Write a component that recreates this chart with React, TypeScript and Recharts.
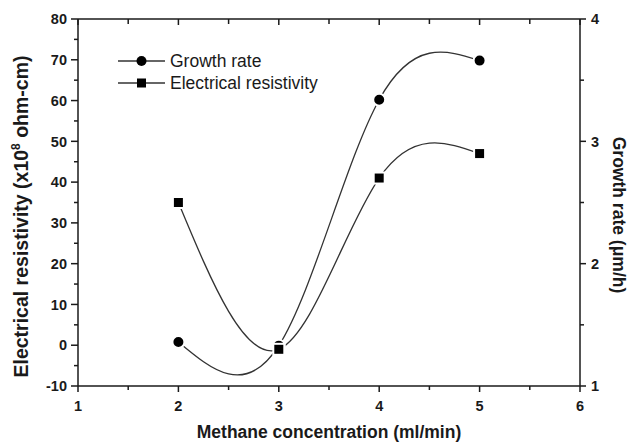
import { LineChart, Line, XAxis, YAxis } from "recharts";

const concentration = [2, 3, 4, 5];
const growthRate = [1.36, 1.33, 3.34, 3.66];
const resistivity = [35, -1, 41, 47];

const xTicks = [1, 1.5, 2, 2.5, 3, 3.5, 4, 4.5, 5, 5.5, 6];
const leftTicks = [-10, -5, 0, 5, 10, 15, 20, 25, 30, 35, 40, 45, 50, 55, 60, 65, 70, 75, 80];
const rightTicks = [1, 1.5, 2, 2.5, 3, 3.5, 4];

const data = concentration.map((c, i) => ({
  c,
  growth: growthRate[i],
  resistivity: resistivity[i],
}));

const INK = "#1a1a1a";
const LINE = "#333";
const FONT = "'Liberation Sans', Arial, Helvetica, sans-serif";

// eslint-disable-next-line @typescript-eslint/no-explicit-any
function BottomTick({ x, y, payload }: any) {
  const major = payload.value % 1 === 0;
  return (
    <g>
      <line x1={x} x2={x} y1={y} y2={y + (major ? 6 : 4)} stroke={INK} strokeWidth={1.5} />
      {major && (
        <text x={x} y={y + 25} textAnchor="middle" fontSize={14.5} fontWeight="bold" fill={INK} fontFamily={FONT}>
          {payload.value}
        </text>
      )}
    </g>
  );
}

// eslint-disable-next-line @typescript-eslint/no-explicit-any
function TopTick({ x, y, payload }: any) {
  const major = payload.value % 1 === 0;
  return <line x1={x} x2={x} y1={y} y2={y + (major ? 6 : 5)} stroke={INK} strokeWidth={1.5} />;
}

// eslint-disable-next-line @typescript-eslint/no-explicit-any
function LeftTick({ x, y, payload }: any) {
  const major = payload.value % 10 === 0;
  return (
    <g>
      <line x1={x - (major ? 7 : 4)} x2={x} y1={y} y2={y} stroke={INK} strokeWidth={1.5} />
      {major && (
        <text x={x - 11} y={y} dy="0.36em" textAnchor="end" fontSize={14.5} fontWeight="bold" fill={INK} fontFamily={FONT}>
          {payload.value}
        </text>
      )}
    </g>
  );
}

// eslint-disable-next-line @typescript-eslint/no-explicit-any
function RightTick({ x, y, payload }: any) {
  const major = payload.value % 1 === 0;
  return (
    <g>
      <line x1={x} x2={x + (major ? 6 : 4)} y1={y} y2={y} stroke={INK} strokeWidth={1.5} />
      {major && (
        <text x={x + 11} y={y} dy="0.36em" textAnchor="start" fontSize={14.5} fontWeight="bold" fill={INK} fontFamily={FONT}>
          {payload.value}
        </text>
      )}
    </g>
  );
}

// eslint-disable-next-line @typescript-eslint/no-explicit-any
const circleDot = (p: any) => (
  <circle key={`c-${p.index}`} cx={p.cx} cy={p.cy} r={6} fill="#000" stroke="#fff" strokeWidth={2} />
);

// eslint-disable-next-line @typescript-eslint/no-explicit-any
const squareDot = (p: any) => (
  <rect key={`s-${p.index}`} x={p.cx - 5.5} y={p.cy - 5.5} width={11} height={11} fill="#000" stroke="#fff" strokeWidth={2} />
);

// eslint-disable-next-line @typescript-eslint/no-explicit-any
const leftTitle = ({ viewBox }: any) => {
  const vx = viewBox ? viewBox.x : 0;
  const vy = viewBox ? viewBox.y + viewBox.height / 2 : 202;
  return (
    <text
      transform={`translate(${vx + 28}, ${vy + 14}) rotate(-90)`}
      textAnchor="middle"
      fontSize={19.5}
      fontWeight="bold"
      fill={INK}
      fontFamily={FONT}
    >
      Electrical resistivity (x10
      <tspan dy={-8} fontSize={12}>8</tspan>
      <tspan dy={8}> ohm-cm)</tspan>
    </text>
  );
};

// eslint-disable-next-line @typescript-eslint/no-explicit-any
const rightTitle = ({ viewBox }: any) => {
  const vx = viewBox ? viewBox.x : 580;
  const vy = viewBox ? viewBox.y + viewBox.height / 2 : 202;
  return (
    <text
      transform={`translate(${vx + 33}, ${vy + 12.5}) rotate(90)`}
      textAnchor="middle"
      fontSize={17.5}
      fontWeight="bold"
      fill={INK}
      fontFamily={FONT}
    >
      Growth rate (μm/h)
    </text>
  );
};

// eslint-disable-next-line @typescript-eslint/no-explicit-any
const bottomTitle = ({ viewBox }: any) => {
  const vx = viewBox ? viewBox.x + viewBox.width / 2 : 329;
  const vy = viewBox ? viewBox.y : 386;
  return (
    <text x={vx} y={vy + 52} textAnchor="middle" fontSize={17.5} fontWeight="bold" fill={INK} fontFamily={FONT}>
      Methane concentration (ml/min)
    </text>
  );
};

function LegendRow({ label, square }: { label: string; square?: boolean }) {
  return (
    <div style={{ display: "flex", alignItems: "center", height: 22 }}>
      <svg width={52} height={22}>
        <line x1={0} x2={47} y1={11} y2={11} stroke={LINE} strokeWidth={1.3} />
        {square ? <rect x={19} y={6.5} width={9} height={9} fill="#000" /> : <circle cx={23.5} cy={11} r={5} fill="#000" />}
      </svg>
      <span style={{ fontSize: 17.5, color: INK, fontFamily: FONT, lineHeight: "22px" }}>{label}</span>
    </div>
  );
}

export default function App() {
  return (
    <div style={{ position: "absolute", left: 0, top: 0, width: 628, height: 443, background: "#fff" }}>
      <LineChart width={628} height={443} data={data} margin={{ top: 0, right: 0, bottom: 0, left: 0 }}>
        <XAxis
          dataKey="c"
          type="number"
          domain={[1, 6]}
          ticks={xTicks}
          interval={0}
          height={57}
          tickSize={0}
          tickMargin={0}
          tick={BottomTick}
          axisLine={{ stroke: INK, strokeWidth: 1.5 }}
          label={{ content: bottomTitle }}
        />
        <XAxis
          xAxisId="top"
          dataKey="c"
          orientation="top"
          type="number"
          domain={[1, 6]}
          ticks={xTicks}
          interval={0}
          height={19}
          tickSize={0}
          tickMargin={0}
          tick={TopTick}
          axisLine={{ stroke: INK, strokeWidth: 1.5 }}
        />
        <YAxis
          yAxisId="left"
          type="number"
          domain={[-10, 80]}
          ticks={leftTicks}
          interval={0}
          width={78}
          tickSize={0}
          tickMargin={0}
          tick={LeftTick}
          axisLine={{ stroke: INK, strokeWidth: 1.5 }}
          label={{ content: leftTitle }}
        />
        <YAxis
          yAxisId="right"
          orientation="right"
          type="number"
          domain={[1, 4]}
          ticks={rightTicks}
          interval={0}
          width={48}
          tickSize={0}
          tickMargin={0}
          tick={RightTick}
          axisLine={{ stroke: INK, strokeWidth: 1.5 }}
          label={{ content: rightTitle }}
        />
        <Line
          yAxisId="right"
          dataKey="growth"
          type="natural"
          stroke={LINE}
          strokeWidth={1.3}
          dot={circleDot}
          activeDot={false}
          isAnimationActive={false}
        />
        <Line
          yAxisId="left"
          dataKey="resistivity"
          type="natural"
          stroke={LINE}
          strokeWidth={1.3}
          dot={squareDot}
          activeDot={false}
          isAnimationActive={false}
        />
      </LineChart>
      <div style={{ position: "absolute", left: 118, top: 50 }}>
        <LegendRow label="Growth rate" />
        <LegendRow label="Electrical resistivity" square />
      </div>
    </div>
  );
}
